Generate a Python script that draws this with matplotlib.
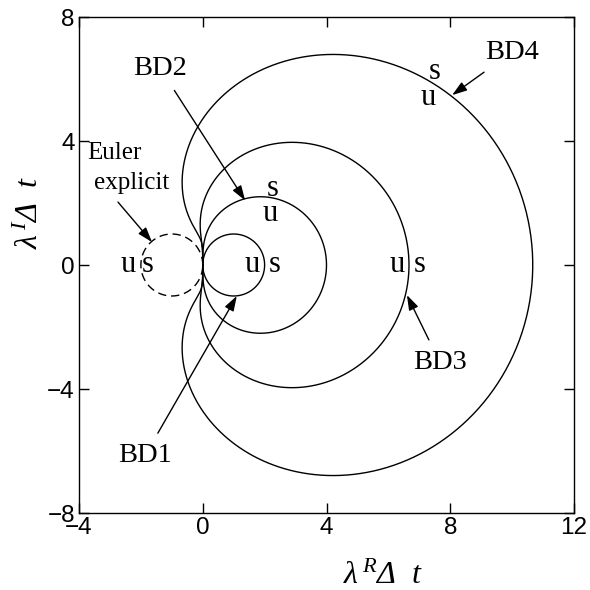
import numpy as np
import matplotlib
matplotlib.use('Agg')
import matplotlib.pyplot as plt

# BDF coefficients: lambda*dt = sum_j a_j * zeta^(-j), zeta = exp(i*theta)
bd_coefs = {
    'BD1': [1.0, -1.0],
    'BD2': [3 / 2, -2.0, 1 / 2],
    'BD3': [11 / 6, -3.0, 3 / 2, -1 / 3],
    'BD4': [25 / 12, -4.0, 3.0, -4 / 3, 1 / 4],
}
# explicit Euler: lambda*dt = zeta - 1
euler_coefs = [-1.0, 1.0]

# curve labels: (text, text x, text y, arrow tip x, arrow tip y)
curve_labels = [
    ('BD1', -1.87, -6.15, 1.10, -1.00),
    ('BD2', -1.38, 6.35, 1.37, 2.08),
    ('BD3', 7.67, -3.15, 6.60, -0.97),
    ('BD4', 10.0, 6.87, 8.06, 5.48),
]
# stable / unstable side marks
us_marks = [
    ('u', -2.42, 0.0), ('s', -1.77, 0.0),
    ('u', 1.59, 0.0), ('s', 2.33, 0.0),
    ('u', 2.17, 1.65), ('s', 2.27, 2.48),
    ('u', 6.28, 0.0), ('s', 7.02, 0.0),
    ('u', 7.28, 5.40), ('s', 7.51, 6.23),
]
xticks = [-4, 0, 4, 8, 12]
yticks = [-8, -4, 0, 4, 8]

plt.rcParams['mathtext.fontset'] = 'custom'
plt.rcParams['mathtext.rm'] = 'Liberation Serif:italic'
plt.rcParams['mathtext.it'] = 'Liberation Serif:italic'

serif = 'Liberation Serif'
sans = 'Liberation Sans'

theta = np.linspace(0, 2 * np.pi, 721)
zinv = np.exp(-1j * theta)

fig = plt.figure(figsize=(5.9, 5.9), dpi=100)
ax = fig.add_axes([79 / 590, 1 - 513 / 590, 495 / 590, 496 / 590])

for name, c in bd_coefs.items():
    lam = sum(a * zinv ** j for j, a in enumerate(c))
    ax.plot(lam.real, lam.imag, color='black', lw=1.0)

lam_e = euler_coefs[0] + euler_coefs[1] * np.exp(1j * theta)
ax.plot(lam_e.real, lam_e.imag, color='black', lw=1.0, dashes=(6, 3.5))

arrow = dict(arrowstyle='-|>,head_length=0.9,head_width=0.3', color='black',
             lw=1.0, shrinkA=6, shrinkB=0, mutation_scale=10)
for txt, tx, ty, ax_, ay_ in curve_labels:
    ax.annotate(txt, xy=(ax_, ay_), xytext=(tx, ty), ha='center', va='center',
                fontsize=20.5, family=serif, arrowprops=arrow)

ax.annotate('', xy=(-1.64, 0.74), xytext=(-2.74, 2.03), arrowprops=dict(arrow, shrinkA=0))
ax.text(-2.84, 3.62, 'Euler', ha='center', va='center', fontsize=18, family=serif)
ax.text(-2.29, 2.65, 'explicit', ha='center', va='center', fontsize=18, family=serif)

for t, x, y in us_marks:
    ax.text(x, y, t, ha='center', va='center', fontsize=22, family=serif)

ax.set_xlim(-4, 12)
ax.set_ylim(-8, 8)
ax.set_xticks(xticks)
ax.set_yticks(yticks)
ax.set_xticklabels([str(v).replace('-', '\u2212') for v in xticks], family=sans, fontsize=17.5)
ax.set_yticklabels([str(v).replace('-', '\u2212') for v in yticks], family=sans, fontsize=17.5)
ax.tick_params(direction='in', length=7, width=1.0, top=True, right=True, pad=3)
for s in ax.spines.values():
    s.set_linewidth(1.0)

ax.set_xlabel(r'$\lambda^{\,R}\Delta\ \ t$', fontsize=23, va='center')
ax.set_ylabel(r'$\lambda^{\,I}\Delta\ \ t$', fontsize=23, va='center')
ax.xaxis.set_label_coords((383 - 79) / 495, -(575 - 513) / 496)
ax.yaxis.set_label_coords(-(79 - 30) / 495, (513 - 212) / 496)

fig.savefig('out.png', dpi=100)
